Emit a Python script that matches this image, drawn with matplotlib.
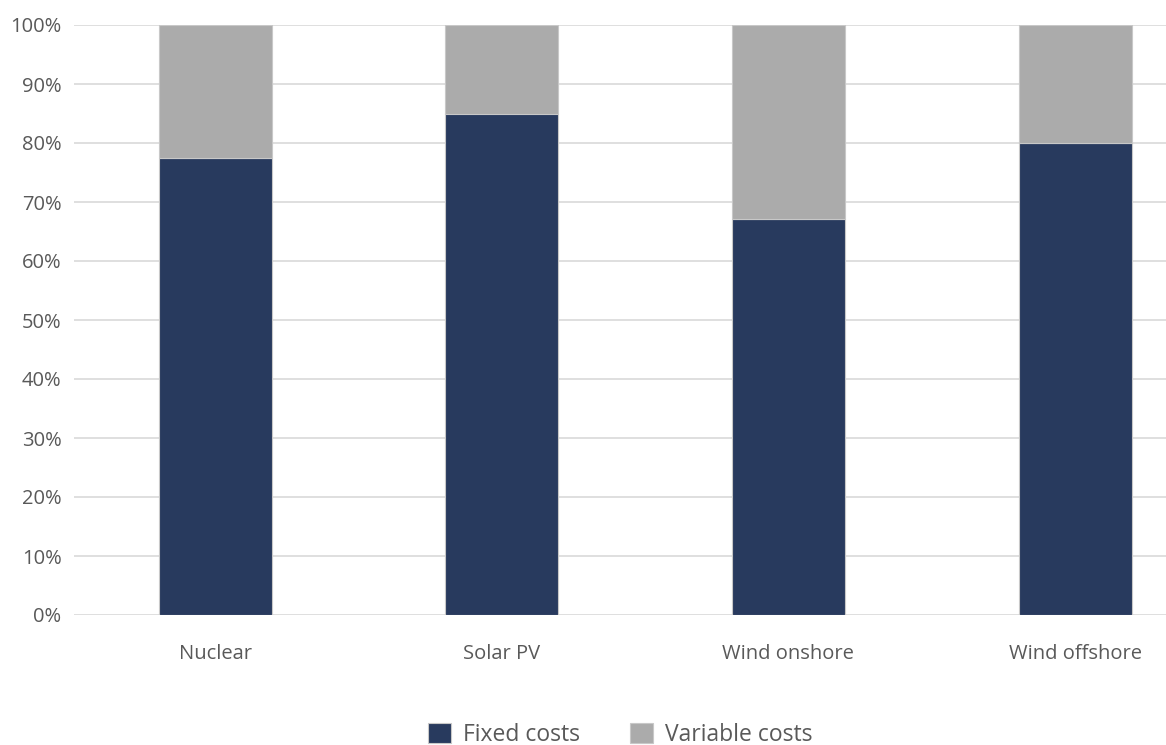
import matplotlib.pyplot as plt

# Data
technologies = ["Nuclear", "Solar PV", "Wind onshore", "Wind offshore"]
fixed_costs = [77.5, 85.0, 67.2, 80.0]
variable_costs = [22.5, 15.0, 32.8, 20.0]

navy = "#283a5e"
grey = "#ababab"
text_col = "#595959"

plt.rcParams['font.family'] = ['Open Sans', 'DejaVu Sans']

fig = plt.figure(figsize=(11.66, 7.45), dpi=100)
ax = fig.add_axes([74 / 1166, 1 - 615 / 745, 1 - 74 / 1166, (615 - 25) / 745])

x = range(len(technologies))
ax.bar(x, fixed_costs, width=0.394, color=navy, edgecolor="#c8c8c8",
       linewidth=0.8, label="Fixed costs", zorder=3)
ax.bar(x, variable_costs, width=0.394, bottom=fixed_costs, color=grey,
       edgecolor="#c8c8c8", linewidth=0.8, label="Variable costs", zorder=3)

ax.set_ylim(0, 100)
ax.set_xlim(-0.492, 3.317)
ax.set_yticks(range(0, 101, 10))
ax.set_yticklabels([f"{v}%" for v in range(0, 101, 10)])
ax.set_xticks(list(x))
ax.set_xticklabels(technologies)

ax.grid(axis="y", color="#d9d9d9", linewidth=1.2, zorder=0)
for s in ax.spines.values():
    s.set_visible(False)
ax.tick_params(axis="both", length=0, labelsize=14.5, colors=text_col)
ax.tick_params(axis="y", pad=9)
ax.tick_params(axis="x", pad=21)

leg = fig.legend(loc="center", bbox_to_anchor=(0.532, 1 - 735 / 745), ncol=2,
                 frameon=False, fontsize=16.5, handlelength=1.0, handleheight=1.0,
                 columnspacing=2.2, handletextpad=0.5)
for t in leg.get_texts():
    t.set_color(text_col)

fig.savefig("out.png", dpi=100)
